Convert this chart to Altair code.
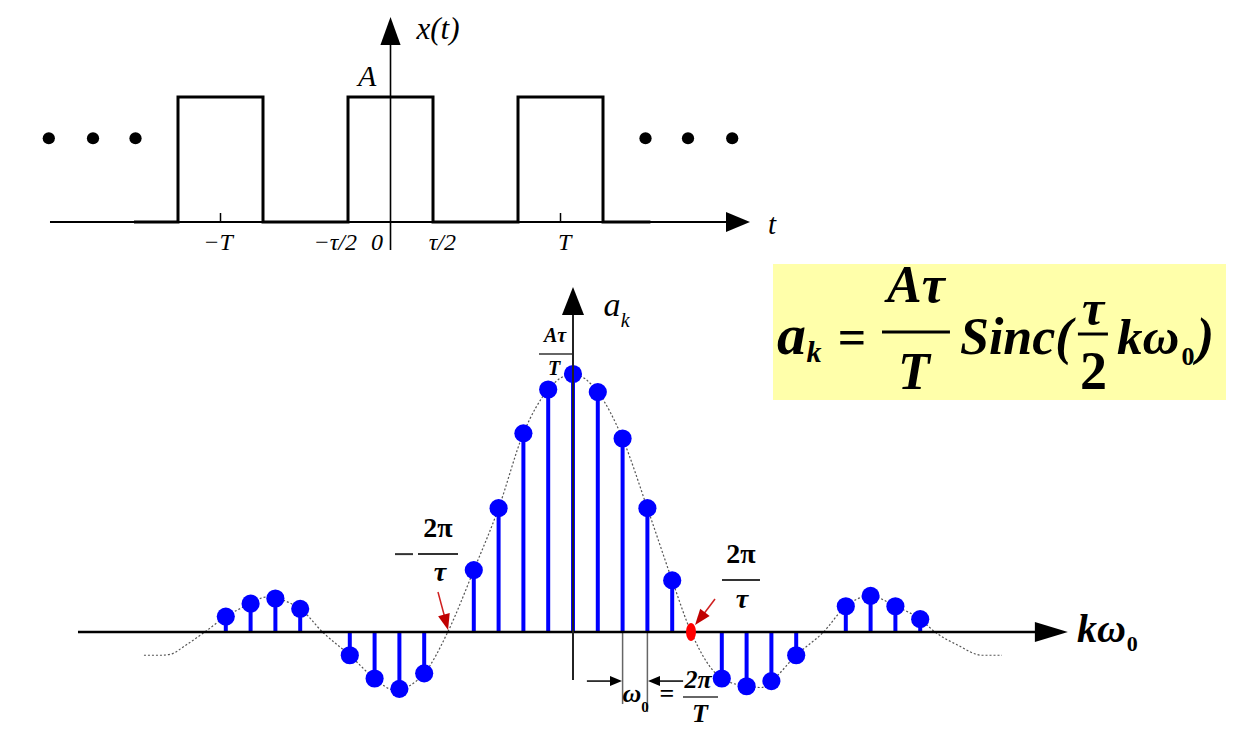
import altair as alt
import pandas as pd

# ---------------- top panel: periodic rectangular pulse train x(t) ----------------
pulse_t = [-3.0, -2.5, -2.5, -1.5, -1.5, -0.5, -0.5, 0.5, 0.5, 1.5, 1.5, 2.5, 2.5, 3.04]
pulse_x = [0, 0, 1, 1, 0, 0, 1, 1, 0, 0, 1, 1, 0, 0]
ellipsis_t = [-4.02, -3.5, -3.0, 3.0, 3.5, 4.02]
ellipsis_x = [0.67, 0.67, 0.67, 0.67, 0.67, 0.67]
period_ticks = [-2, 2]
t_labels = ["−T", "−τ/2", "0", "τ/2", "T"]
t_label_pos = [-2.03, -0.65, -0.16, 0.61, 2.05]

# ---------------- bottom panel: Fourier series coefficients a_k ----------------
k_vals = [-14, -13, -12, -11, -9, -8, -7, -6, -4, -3, -2, -1, 0,
          1, 2, 3, 4, 6, 7, 8, 9, 11, 12, 13, 14]
a_vals = [0.06, 0.11, 0.13, 0.09, -0.09, -0.18, -0.22, -0.16, 0.24, 0.48, 0.77, 0.94, 1.00,
          0.93, 0.75, 0.48, 0.20, -0.18, -0.21, -0.19, -0.09, 0.10, 0.14, 0.10, 0.05]
env_k = [-17.3, -16.6, -16.2, -15.6, -14.85, -14, -13, -12.4, -11, -10.1, -9, -8, -7.2, -6,
         -5.05, -4, -3, -2, -1, 0, 1, 2, 3, 4, 4.76, 6, 7, 7.6, 8, 9, 10.1, 11, 12, 13, 14,
         14.6, 15.5, 16.5, 17.3]
env_a = [-0.09, -0.09, -0.085, -0.05, 0.0, 0.06, 0.11, 0.135, 0.09, 0.0, -0.09, -0.18, -0.225, -0.16,
         0.0, 0.24, 0.48, 0.77, 0.94, 1.0, 0.93, 0.75, 0.48, 0.20, 0.0, -0.18, -0.21, -0.215, -0.19, -0.09,
         0.0, 0.10, 0.14, 0.10, 0.05, 0.0, -0.05, -0.09, -0.09]

SERIF = "Liberation Serif"
W = 1219
H_TOP = 252
H_BOT = 465

TX = alt.Scale(domain=[-4.5, 9.841], nice=False, zero=False)
TY = alt.Scale(domain=[-0.304, 1.712], nice=False, zero=False)
KX = alt.Scale(domain=[-22.782, 26.371], nice=False, zero=False)
KY = alt.Scale(domain=[-0.368, 1.4341], nice=False, zero=False)


def enc_xy(sx, sy):
    return dict(x=alt.X("x:Q", scale=sx, axis=None), y=alt.Y("y:Q", scale=sy, axis=None))


def txt(xs, ys, texts, sx, sy, size, weight="normal", style="normal",
        align="center", baseline="middle", color="black"):
    df = pd.DataFrame({"x": xs, "y": ys, "text": texts})
    return alt.Chart(df).mark_text(font=SERIF, fontSize=size, fontWeight=weight, fontStyle=style,
                                   align=align, baseline=baseline, color=color).encode(
        text="text:N", **enc_xy(sx, sy))


def seg(x1, x2, y1, y2, sx, sy, color="black", width=2.0):
    df = pd.DataFrame({"x": [x1], "x2": [x2], "y": [y1], "y2": [y2]})
    return alt.Chart(df).mark_rule(color=color, strokeWidth=width).encode(
        x2="x2:Q", y2="y2:Q", **enc_xy(sx, sy))


def head(x, y, shape, size, sx, sy, color="black", angle=0):
    df = pd.DataFrame({"x": [x], "y": [y]})
    return alt.Chart(df).mark_point(shape=shape, size=size, filled=True, color=color, opacity=1,
                                    strokeWidth=0, angle=angle).encode(**enc_xy(sx, sy))


RIGHT = "M -1 -0.833 L 1 0 L -1 0.833 Z"
LEFT = "M 1 -0.833 L -1 0 L 1 0.833 Z"
UP = "M -0.72 1 L 0 -1 L 0.72 1 Z"
DOWN = "M -0.75 -1 L 0.75 -1 L 0 1 Z"
ELLIPSE = "M 0 -1 A 0.55 1 0 1 1 0 1 A 0.55 1 0 1 1 0 -1 Z"

# ---------------- top chart ----------------
pulse_df = pd.DataFrame({"x": pulse_t, "y": pulse_x, "i": list(range(len(pulse_t)))})
signal = alt.Chart(pulse_df).mark_line(color="black", strokeWidth=3, strokeJoin="miter",
                                       strokeCap="square").encode(order="i:Q", **enc_xy(TX, TY))
dots = alt.Chart(pd.DataFrame({"x": ellipsis_t, "y": ellipsis_x})).mark_circle(
    size=150, color="black", opacity=1).encode(**enc_xy(TX, TY))
ticks_df = pd.DataFrame({"x": period_ticks, "y": [0, 0], "y2": [0.072, 0.072]})
ticks = alt.Chart(ticks_df).mark_rule(color="black", strokeWidth=1.5).encode(y2="y2:Q", **enc_xy(TX, TY))

top_layers = [
    seg(-4.006, 3.99, 0, 0, TX, TY, width=2),
    head(4.088, 0, RIGHT, 576, TX, TY),
    seg(0, 0, -0.224, 1.42, TX, TY, width=1.6),
    head(0, 1.528, UP, 784, TX, TY),
    signal, dots, ticks,
    txt(t_label_pos, [-0.168] * 5, t_labels, TX, TY, 24, style="italic"),
    txt([0.559], [1.536], ["x(t)"], TX, TY, 31, style="italic"),
    txt([4.488], [-0.024], ["t"], TX, TY, 29, style="italic"),
    txt([-0.276], [1.16], ["A"], TX, TY, 30, style="italic"),
]
top = alt.layer(*top_layers).properties(width=W, height=H_TOP)

# ---------------- bottom chart ----------------
coef_df = pd.DataFrame({"x": k_vals, "y": a_vals})
env_df = pd.DataFrame({"x": env_k, "y": env_a})
envelope = alt.Chart(env_df).mark_line(color="#555555", strokeWidth=1.2, strokeDash=[2, 2],
                                       interpolate="monotone").encode(**enc_xy(KX, KY))
stems = alt.Chart(coef_df).mark_rule(color="#0000FF", strokeWidth=4).encode(
    y2=alt.datum(0), **enc_xy(KX, KY))
heads = alt.Chart(coef_df).mark_circle(color="#0000FF", size=330, opacity=1).encode(**enc_xy(KX, KY))

DARK_RED = "#C00000"
bottom_layers = [
    # formula box
    alt.Chart(pd.DataFrame({"x": [8.065], "x2": [26.33], "y": [0.899], "y2": [1.426]})).mark_rect(
        color="#FFFFAA").encode(x2="x2:Q", y2="y2:Q", **enc_xy(KX, KY)),
    envelope,
    # dimension lines for omega_0
    seg(2, 2, 0, -0.279, KX, KY, color="#666666", width=1.5),
    seg(3, 3, 0, -0.31, KX, KY, color="#666666", width=1.5),
    seg(0.56, 1.62, -0.19, -0.19, KX, KY, width=1.5),
    head(1.734, -0.19, RIGHT, 144, KX, KY),
    seg(4.44, 3.3, -0.19, -0.19, KX, KY, width=1.5),
    head(3.266, -0.19, LEFT, 144, KX, KY),
    stems, heads,
    # axes
    seg(-19.96, 18.83, 0, 0, KX, KY, width=2.5),
    head(19.29, 0, "M -1 -0.606 L 1 0 L -1 0.606 Z", 1089, KX, KY),
    seg(0, 0, -0.186, 1.24, KX, KY, color="#222222", width=2),
    head(0, 1.283, "M -0.786 1 L 0 -1 L 0.786 1 Z", 784, KX, KY),
    # zero-crossing arrows
    seg(-5.444, -5.12, 0.155, 0.0388, KX, KY, color="#D02020", width=1.5),
    head(-5.121, 0.0376, DOWN, 256, KX, KY, color=DARK_RED, angle=345),
    seg(5.726, 5.121, 0.128, 0.0504, KX, KY, color="#D02020", width=1.5),
    head(5.121, 0.0516, DOWN, 256, KX, KY, color=DARK_RED, angle=38),
    head(4.758, 0, ELLIPSE, 324, KX, KY, color="#FF0000"),
    # -2pi/tau label
    txt([-5.444], [0.399], ["2π"], KX, KY, 28, weight="bold"),
    seg(-6.25, -4.637, 0.302, 0.302, KX, KY, color="#333333", width=2),
    seg(-7.177, -6.452, 0.302, 0.302, KX, KY, color="#333333", width=2),
    txt([-5.363], [0.229], ["τ"], KX, KY, 28, weight="bold", style="italic"),
    # 2pi/tau label
    txt([6.774], [0.298], ["2π"], KX, KY, 28, weight="bold"),
    seg(6.008, 7.54, 0.2016, 0.2016, KX, KY, color="#333333", width=2),
    txt([6.815], [0.124], ["τ"], KX, KY, 28, weight="bold", style="italic"),
    # A tau / T at top of axis
    txt([-0.726], [1.147], ["Aτ"], KX, KY, 20, weight="bold", style="italic"),
    seg(-1.371, -0.04, 1.0775, 1.0775, KX, KY, color="#333333", width=1.5),
    txt([-0.766], [1.021], ["T"], KX, KY, 20, weight="bold", style="italic"),
    # a_k axis label
    txt([1.573], [1.264], ["a"], KX, KY, 34, style="italic"),
    txt([2.1], [1.205], ["k"], KX, KY, 20, style="italic"),
    # k omega_0 axis label
    txt([20.32], [0.008], ["kω"], KX, KY, 40, weight="bold", style="italic", align="left"),
    txt([22.55], [-0.045], ["0"], KX, KY, 22, weight="bold"),
    # omega_0 = 2pi/T
    txt([2.379], [-0.240], ["ω"], KX, KY, 26, weight="bold", style="italic"),
    txt([2.903], [-0.291], ["0"], KX, KY, 15, weight="bold"),
    txt([3.79], [-0.240], ["="], KX, KY, 26, weight="bold"),
    txt([5.04], [-0.186], ["2π"], KX, KY, 26, weight="bold", style="italic"),
    seg(4.435, 5.847, -0.252, -0.252, KX, KY, color="#333333", width=1.5),
    txt([5.12], [-0.318], ["T"], KX, KY, 26, weight="bold", style="italic"),
    # formula
    txt([8.226], [1.0775], ["a"], KX, KY, 58, weight="bold", style="italic", align="left",
        baseline="alphabetic"),
    txt([9.42], [1.0465], ["k"], KX, KY, 30, weight="bold", style="italic", align="left",
        baseline="alphabetic"),
    txt([11.25], [1.0775], ["="], KX, KY, 50, weight="bold", baseline="alphabetic"),
    txt([13.83], [1.279], ["Aτ"], KX, KY, 52, weight="bold", style="italic", baseline="alphabetic"),
    seg(12.46, 15.2, 1.163, 1.163, KX, KY, width=3),
    txt([13.75], [0.942], ["T"], KX, KY, 52, weight="bold", style="italic", baseline="alphabetic"),
    txt([15.605], [1.0775], ["Sinc("], KX, KY, 52, weight="bold", style="italic", align="left",
        baseline="alphabetic"),
    txt([20.97], [1.19], ["τ"], KX, KY, 50, weight="bold", style="italic", baseline="alphabetic"),
    seg(20.36, 21.57, 1.155, 1.155, KX, KY, width=3),
    txt([20.99], [0.942], ["2"], KX, KY, 54, weight="bold", baseline="alphabetic"),
    txt([21.935], [1.0775], ["kω"], KX, KY, 51, weight="bold", style="italic", align="left",
        baseline="alphabetic"),
    txt([24.8], [1.035], ["0"], KX, KY, 26, weight="bold", baseline="alphabetic"),
    txt([25.15], [1.0775], [")"], KX, KY, 52, weight="bold", style="italic", align="left",
        baseline="alphabetic"),
]
bottom = alt.layer(*bottom_layers).properties(width=W, height=H_BOT)

chart = alt.vconcat(top, bottom, spacing=0).properties(padding=0).configure_view(stroke=None)
chart.save("out.html", embed_options={"renderer": "svg", "actions": False})
